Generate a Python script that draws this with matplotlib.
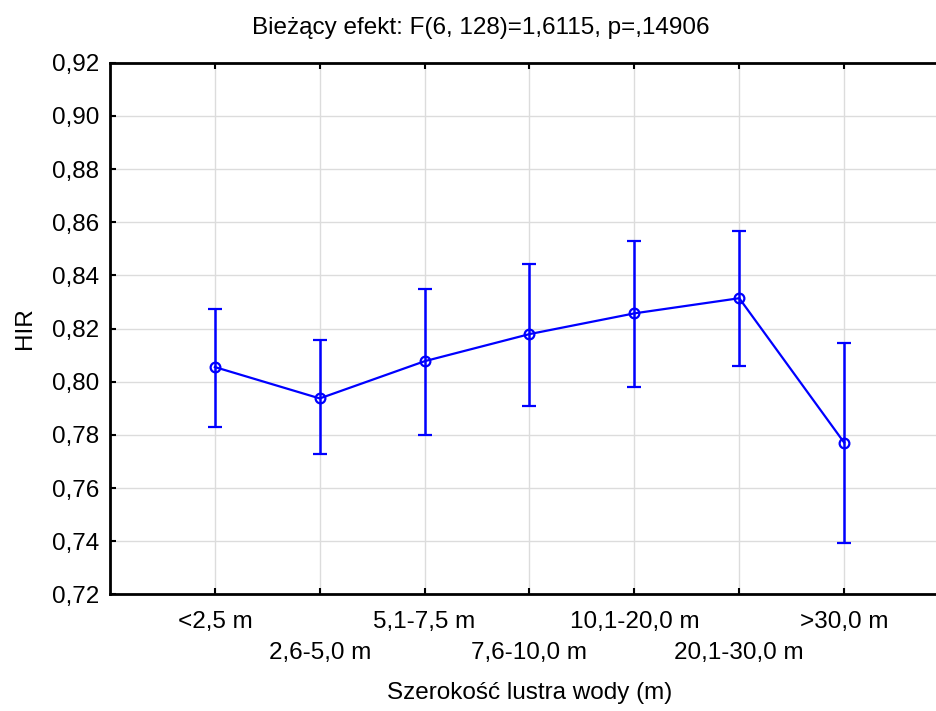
import numpy as np
import matplotlib
matplotlib.use('Agg')
import matplotlib.pyplot as plt
from matplotlib.ticker import FuncFormatter, FixedLocator

# Data
categories = ['<2,5 m', '2,6-5,0 m', '5,1-7,5 m', '7,6-10,0 m',
              '10,1-20,0 m', '20,1-30,0 m', '>30,0 m']
means = [0.8055, 0.7937, 0.8077, 0.8179, 0.8257, 0.8314, 0.7771]
upper = [0.8275, 0.8155, 0.8350, 0.8444, 0.8529, 0.8565, 0.8147]
lower = [0.7830, 0.7727, 0.7800, 0.7909, 0.7980, 0.8059, 0.7392]

title = 'Bieżący efekt: F(6, 128)=1,6115, p=,14906'
xlabel = 'Szerokość lustra wody (m)'
ylabel = 'HIR'

plt.rcParams['font.family'] = ['Liberation Sans', 'DejaVu Sans']
FS = 17.5

fig = plt.figure(figsize=(9.37, 7.11), dpi=100)
ax = fig.add_axes([0.1174, 0.1641, 0.8954, 0.7477])

x = np.arange(len(categories))
means = np.array(means)
yerr = np.vstack([means - np.array(lower), np.array(upper) - means])

ax.errorbar(x, means, yerr=yerr, color='#0000ff', lw=1.6, elinewidth=1.8,
            capsize=5, capthick=1.8, marker='o', markersize=7,
            markerfacecolor='none', markeredgewidth=1.6, zorder=3)

ax.set_xlim(-1, 7)
ax.set_ylim(0.72, 0.92)
ax.set_yticks(np.arange(0.72, 0.9201, 0.02))
ax.yaxis.set_major_formatter(FuncFormatter(lambda v, p: f'{v:.2f}'.replace('.', ',')))

# alternate the category labels on two rows
ax.xaxis.set_major_locator(FixedLocator(x[::2]))
ax.xaxis.set_minor_locator(FixedLocator(x[1::2]))
ax.set_xticklabels(categories[::2])
ax.set_xticklabels(categories[1::2], minor=True)

ax.tick_params(axis='both', which='both', direction='in', length=4, width=1.5,
               labelsize=FS, top=True, right=False, colors='black')
ax.tick_params(axis='y', pad=8)
ax.tick_params(axis='x', which='major', pad=12)
ax.tick_params(axis='x', which='minor', pad=34)

ax.grid(True, which='both', color='#dcdcdc', lw=1)
ax.set_axisbelow(True)

for side in ['left', 'bottom', 'top', 'right']:
    ax.spines[side].set_linewidth(2)

ax.set_xlabel(xlabel, fontsize=FS, labelpad=13)
ax.set_ylabel(ylabel, fontsize=FS, labelpad=11)
fig.text(481 / 937, 1 - 28 / 711, title, fontsize=FS, ha='center', va='center')

fig.savefig('out.png', dpi=100)
